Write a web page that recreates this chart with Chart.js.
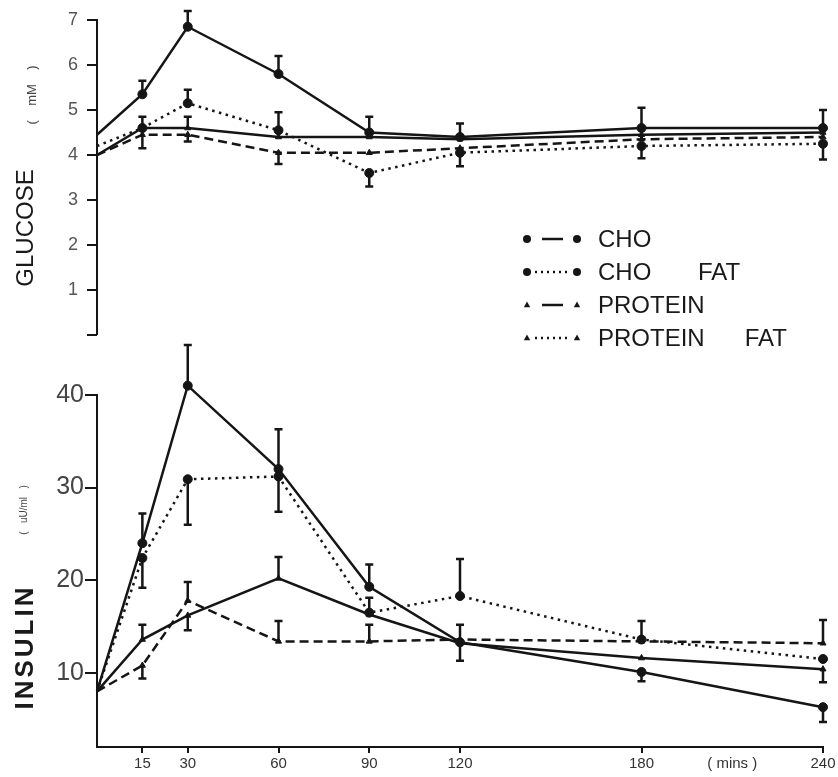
<!DOCTYPE html>
<html><head><meta charset="utf-8">
<script src="https://cdn.jsdelivr.net/npm/chart.js@4.4.1/dist/chart.umd.min.js"></script>
<style>html,body{margin:0;padding:0;background:#fff;}#wrap{width:838px;height:777px;position:relative;}</style>
</head><body><div id="wrap"><canvas id="c" width="838" height="777"></canvas></div>
<script>
// ---- data ----
const times = [0, 15, 30, 60, 90, 120, 180, 240];
const xTickValues = [15, 30, 60, 90, 120, 180, 210, 240];
const xTickLabels = ['15', '30', '60', '90', '120', '180', '( mins )', '240'];
const glucoseTicks = [0, 1, 2, 3, 4, 5, 6, 7];
const insulinTicks = [10, 20, 30, 40];
const seriesNames = ['CHO', 'CHO       FAT', 'PROTEIN', 'PROTEIN      FAT'];

const glucoseCHO        = [4.45, 5.35, 6.85, 5.8, 4.5, 4.4, 4.6, 4.6];
const glucoseCHOFat     = [4.2, 4.6, 5.15, 4.55, 3.6, 4.05, 4.2, 4.25];
const glucoseProtein    = [4.0, 4.6, 4.6, 4.4, 4.4, 4.35, 4.45, 4.5];
const glucoseProteinFat = [4.0, 4.45, 4.45, 4.05, 4.05, 4.15, 4.35, 4.4];

const glucoseCHOErrUp        = [0, 0.3, 0.35, 0.4, 0.35, 0.3, 0.45, 0.4];
const glucoseCHOErrDown      = [0, 0, 0, 0, 0, 0, 0, 0];
const glucoseCHOFatErrUp     = [0, 0, 0.3, 0.4, 0, 0, 0, 0];
const glucoseCHOFatErrDown   = [0, 0, 0, 0, 0.3, 0.3, 0.27, 0.35];
const glucoseProteinErrUp    = [0, 0.25, 0.25, 0, 0, 0, 0, 0];
const glucoseProteinErrDown  = [0, 0, 0, 0, 0, 0, 0, 0];
const glucoseProtFatErrUp    = [0, 0, 0, 0, 0, 0, 0, 0];
const glucoseProtFatErrDown  = [0, 0.3, 0.15, 0.25, 0, 0, 0, 0];

const insulinCHO        = [8, 24, 41, 32, 19.3, 13.3, 10.1, 6.3];
const insulinCHOFat     = [8, 22.4, 30.9, 31.2, 16.5, 18.3, 13.6, 11.5];
const insulinProtein    = [8, 13.6, 16.2, 20.2, 16.3, 13.2, 11.6, 10.4];
const insulinProteinFat = [8, 10.8, 17.8, 13.4, 13.4, 13.6, 13.4, 13.2];

const insulinCHOErrUp        = [0, 3.2, 4.4, 4.3, 2.4, 0, 0, 0];
const insulinCHOErrDown      = [0, 0, 0, 0, 0, 2, 1, 1.6];
const insulinCHOFatErrUp     = [0, 0, 0, 0, 1.6, 4, 2, 0];
const insulinCHOFatErrDown   = [0, 3.2, 4.9, 3.8, 0, 0, 0, 0];
const insulinProteinErrUp    = [0, 1.6, 0, 2.3, 0, 2, 0, 0];
const insulinProteinErrDown  = [0, 0, 1.6, 0, 0, 0, 0, 1.4];
const insulinProtFatErrUp    = [0, 0, 2, 2.2, 1.8, 0, 0, 2.5];
const insulinProtFatErrDown  = [0, 1.4, 0, 0, 0, 0, 0, 0];

// ---- styles ----
const INK = '#151515';
const styles = [
  { dash: [], point: 'circle', r: 4.5, legendDash: [] },
  { dash: [2.5, 4.5], point: 'circle', r: 4.5, legendDash: [2, 4] },
  { dash: [], point: 'triangle', r: 3.5, legendDash: [] },
  { dash: [9, 5], point: 'triangle', r: 3.5, legendDash: [2, 4] }
];

function pts(vals) { return times.map((t, i) => ({ x: t, y: vals[i] })); }

function makeDs(idx, vals, up, down, axis) {
  const s = styles[idx];
  return {
    label: seriesNames[idx],
    data: pts(vals),
    yAxisID: axis,
    borderColor: INK,
    backgroundColor: INK,
    borderWidth: 2.5,
    borderDash: s.dash,
    pointStyle: s.point,
    pointRadius: ctx => ctx.dataIndex === 0 ? 0 : s.r,
    pointBorderWidth: 1,
    pointBorderColor: INK,
    pointBackgroundColor: INK,
    tension: 0,
    errUp: up,
    errDown: down,
    clip: false
  };
}

const datasets = [
  makeDs(0, glucoseCHO, glucoseCHOErrUp, glucoseCHOErrDown, 'yG'),
  makeDs(1, glucoseCHOFat, glucoseCHOFatErrUp, glucoseCHOFatErrDown, 'yG'),
  makeDs(2, glucoseProtein, glucoseProteinErrUp, glucoseProteinErrDown, 'yG'),
  makeDs(3, glucoseProteinFat, glucoseProtFatErrUp, glucoseProtFatErrDown, 'yG'),
  makeDs(0, insulinCHO, insulinCHOErrUp, insulinCHOErrDown, 'yI'),
  makeDs(1, insulinCHOFat, insulinCHOFatErrUp, insulinCHOFatErrDown, 'yI'),
  makeDs(2, insulinProtein, insulinProteinErrUp, insulinProteinErrDown, 'yI'),
  makeDs(3, insulinProteinFat, insulinProtFatErrUp, insulinProtFatErrDown, 'yI')
];
datasets.forEach((d, i) => { if (i >= 4) d.label = seriesNames[i - 4] + ' (insulin)'; });

// ---- plugins ----
const axisLines = {
  id: 'axisLines',
  beforeDatasetsDraw(chart) {
    const { ctx, chartArea } = chart;
    const yG = chart.scales.yG, yI = chart.scales.yI;
    ctx.save();
    ctx.strokeStyle = INK;
    ctx.lineWidth = 2;
    ctx.beginPath();
    ctx.moveTo(chartArea.left, yG.getPixelForValue(glucoseTicks[glucoseTicks.length - 1]) - 1);
    ctx.lineTo(chartArea.left, yG.getPixelForValue(glucoseTicks[0]));
    ctx.moveTo(chartArea.left, yI.getPixelForValue(insulinTicks[insulinTicks.length - 1]) - 1);
    ctx.lineTo(chartArea.left, chartArea.bottom);
    ctx.stroke();
    ctx.restore();
  }
};

const errorBars = {
  id: 'errorBars',
  afterDatasetsDraw(chart) {
    const { ctx } = chart;
    const xs = chart.scales.x;
    ctx.save();
    ctx.strokeStyle = INK;
    ctx.lineWidth = 2.5;
    ctx.setLineDash([]);
    chart.data.datasets.forEach(ds => {
      const ys = chart.scales[ds.yAxisID];
      ds.data.forEach((p, j) => {
        const up = ds.errUp[j], dn = ds.errDown[j];
        if (!up && !dn) return;
        const px = xs.getPixelForValue(p.x);
        const top = ys.getPixelForValue(p.y + up);
        const bot = ys.getPixelForValue(p.y - dn);
        ctx.beginPath();
        ctx.moveTo(px, top); ctx.lineTo(px, bot);
        if (up) { ctx.moveTo(px - 4, top); ctx.lineTo(px + 4, top); }
        if (dn) { ctx.moveTo(px - 4, bot); ctx.lineTo(px + 4, bot); }
        ctx.stroke();
      });
    });
    ctx.restore();
  }
};

const titlesAndLegend = {
  id: 'titlesAndLegend',
  afterDraw(chart) {
    const { ctx } = chart;
    ctx.save();
    ctx.fillStyle = '#1a1a1a';
    ctx.textBaseline = 'alphabetic';
    ctx.textAlign = 'center';
    // Glucose title
    ctx.save();
    ctx.translate(33, 228);
    ctx.rotate(-Math.PI / 2);
    ctx.font = '24px "Liberation Sans", Arial, sans-serif';
    ctx.fillText('GLUCOSE', 0, 0);
    ctx.restore();
    ctx.save();
    ctx.translate(36, 95);
    ctx.rotate(-Math.PI / 2);
    ctx.fillStyle = '#444';
    ctx.font = '13px "Liberation Sans", Arial, sans-serif';
    ctx.fillText('(    mM    )', 0, 0);
    ctx.restore();
    // Insulin title
    ctx.save();
    ctx.translate(33, 647);
    ctx.rotate(-Math.PI / 2);
    ctx.font = 'bold 26px "Liberation Sans", Arial, sans-serif';
    try { ctx.letterSpacing = '3px'; } catch (e) {}
    ctx.fillText('INSULIN', 0, 0);
    ctx.restore();
    ctx.save();
    ctx.translate(27, 510);
    ctx.rotate(-Math.PI / 2);
    ctx.fillStyle = '#444';
    ctx.font = '10px "Liberation Sans", Arial, sans-serif';
    ctx.fillText('(   uU/ml   )', 0, 0);
    ctx.restore();
    // Legend
    const rows = [239, 272, 305, 338];
    ctx.textAlign = 'left';
    ctx.textBaseline = 'middle';
    ctx.font = '24px "Liberation Sans", Arial, sans-serif';
    seriesNames.forEach((name, i) => {
      const s = styles[i];
      const y = rows[i];
      ctx.strokeStyle = INK;
      ctx.lineWidth = 2.5;
      ctx.setLineDash(s.legendDash);
      ctx.beginPath();
      if (s.legendDash.length) { ctx.moveTo(535, y); ctx.lineTo(571, y); }
      else { ctx.moveTo(542, y); ctx.lineTo(563, y); }
      ctx.stroke();
      ctx.setLineDash([]);
      ctx.fillStyle = INK;
      [527, 577].forEach(mx => {
        ctx.beginPath();
        if (s.point === 'circle') {
          ctx.arc(mx, y, 4, 0, Math.PI * 2);
        } else {
          ctx.moveTo(mx, y - 3.5); ctx.lineTo(mx + 3.2, y + 2.2); ctx.lineTo(mx - 3.2, y + 2.2); ctx.closePath();
        }
        ctx.fill();
      });
      ctx.fillStyle = '#1a1a1a';
      ctx.fillText(name, 598, y + 1);
    });
    ctx.restore();
  }
};

// ---- chart ----
new Chart(document.getElementById('c'), {
  type: 'line',
  data: { datasets },
  options: {
    responsive: false,
    animation: false,
    devicePixelRatio: 1,
    layout: { padding: { top: 20, right: 15, bottom: 0, left: 0 } },
    plugins: { legend: { display: false }, tooltip: { enabled: false } },
    scales: {
      x: {
        type: 'linear', position: 'bottom', min: 0, max: 240,
        border: { display: true, color: INK, width: 2 },
        grid: {
          drawOnChartArea: false, drawTicks: true, tickLength: 6, lineWidth: 2,
          tickColor: c => (c.tick && c.tick.value === 210) ? 'rgba(0,0,0,0)' : INK
        },
        afterBuildTicks: sc => { sc.ticks = xTickValues.map(v => ({ value: v })); },
        ticks: {
          autoSkip: false, maxRotation: 0, padding: 2, color: '#333',
          font: { size: 15, family: '"Liberation Sans", Arial, sans-serif' },
          callback: v => xTickLabels[xTickValues.indexOf(v)]
        },
        afterFit: sc => { sc.height = 30; }
      },
      yI: {
        type: 'linear', position: 'left', stack: 'v', stackWeight: 412,
        min: 2, max: 46.47,
        border: { display: false },
        grid: { drawOnChartArea: false, drawTicks: true, tickLength: 12, lineWidth: 2, tickColor: INK },
        afterBuildTicks: sc => { sc.ticks = insulinTicks.map(v => ({ value: v })); },
        ticks: {
          autoSkip: false, padding: 1, color: '#444',
          font: { size: 25, family: '"Liberation Sans", Arial, sans-serif' },
          callback: v => String(v)
        },
        afterFit: sc => { sc.width = 97; }
      },
      yG: {
        type: 'linear', position: 'left', stack: 'v', stackWeight: 315,
        min: 0, max: 7,
        border: { display: false },
        grid: { drawOnChartArea: false, drawTicks: true, tickLength: 10, lineWidth: 2, tickColor: INK },
        afterBuildTicks: sc => { sc.ticks = glucoseTicks.map(v => ({ value: v })); },
        ticks: {
          autoSkip: false, padding: 9, color: '#555',
          font: { size: 18, family: '"Liberation Sans", Arial, sans-serif' },
          callback: v => v === 0 ? '' : String(v)
        },
        afterFit: sc => { sc.width = 97; }
      }
    }
  },
  plugins: [axisLines, errorBars, titlesAndLegend]
});
</script>
</body></html>
